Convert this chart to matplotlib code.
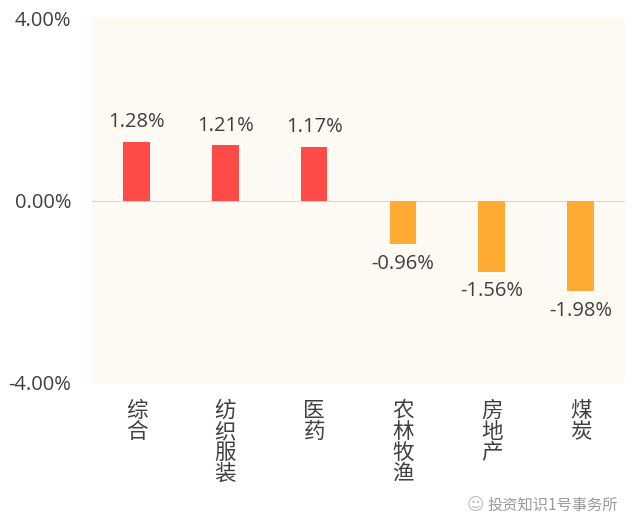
import matplotlib.pyplot as plt

plt.rcParams['font.family'] = ['Open Sans', 'Noto Sans CJK SC', 'DejaVu Sans']

# Data
categories = ['综合', '纺织服装', '医药', '农林牧渔', '房地产', '煤炭']
values = [1.28, 1.21, 1.17, -0.96, -1.56, -1.98]
yticks = [-4.0, 0.0, 4.0]

POS_COLOR = '#FF4B47'
NEG_COLOR = '#FFAA33'
TEXT_COLOR = '#404040'

fig = plt.figure(figsize=(6.4, 5.32), dpi=100)
ax = fig.add_axes([92 / 640, 1 - 383 / 532, 533 / 640, 365 / 532])
ax.set_facecolor('#FDFAF3')

x = list(range(len(categories)))
colors = [POS_COLOR if v >= 0 else NEG_COLOR for v in values]
ax.bar(x, values, width=0.3, color=colors, zorder=3)
ax.axhline(0, color='#D9D9D9', linewidth=0.8, zorder=2)

# Value labels
for xi, v in zip(x, values):
    if v >= 0:
        ax.annotate(f'{v:.2f}%', (xi, v), xytext=(0, 7), textcoords='offset points',
                    ha='center', va='bottom', fontsize=14.5, color=TEXT_COLOR)
    else:
        ax.annotate(f'{v:.2f}%', (xi, v), xytext=(0, -7), textcoords='offset points',
                    ha='center', va='top', fontsize=14.5, color=TEXT_COLOR)

ax.set_xlim(-0.5, len(categories) - 0.5)
ax.set_ylim(-4, 4)
ax.set_yticks(yticks)
ax.set_yticklabels([f'{t:.2f}%' for t in yticks], fontsize=14.5, color=TEXT_COLOR)
ax.set_xticks(x)
ax.set_xticklabels(['\n'.join(c) for c in categories], fontsize=15.5,
                   color=TEXT_COLOR, va='top', linespacing=0.95,
                   family=['Noto Sans CJK SC', 'DejaVu Sans'])
ax.tick_params(axis='x', length=0, pad=12)
ax.tick_params(axis='y', length=0, pad=15)
for s in ax.spines.values():
    s.set_visible(False)

# Watermark
fig.text(0.966, 1 - 505 / 532, '投资知识1号事务所', ha='right', va='center',
         fontsize=11, color='#9A9A9A', family=['Noto Sans CJK SC', 'DejaVu Sans'])
fig.text(0.757, 1 - 505 / 532, '\u263A', ha='right', va='center',
         fontsize=12, color='#BBBBBB', family='DejaVu Sans')

fig.savefig('out.png', dpi=100)
